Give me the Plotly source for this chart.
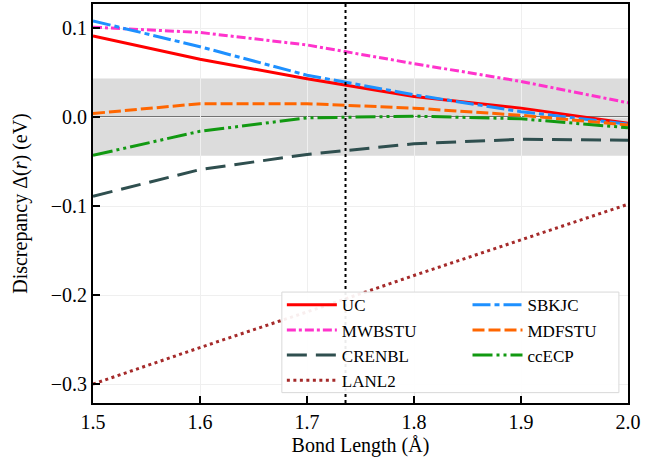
import plotly.graph_objects as go

# ---------------- data ----------------
bond_length = [1.5, 1.6, 1.7, 1.8, 1.9, 2.0]
uc      = [0.091, 0.065, 0.043, 0.023, 0.010, -0.007]
sbkjc   = [0.108, 0.079, 0.047, 0.025, 0.006, -0.008]
mwbstu  = [0.101, 0.095, 0.081, 0.060, 0.040, 0.016]
mdfstu  = [0.004, 0.015, 0.015, 0.010, 0.002, -0.009]
crenbl  = [-0.089, -0.059, -0.042, -0.030, -0.025, -0.026]
ccecp   = [-0.043, -0.016, -0.001, 0.001, -0.002, -0.012]
lanl2   = [-0.300, -0.259, -0.219, -0.178, -0.138, -0.098]
r_eq = 1.736          # equilibrium bond length (vertical marker)
chem_acc = 0.0434     # chemical accuracy band half-width (eV)
x_ticks = [1.5, 1.6, 1.7, 1.8, 1.9, 2.0]
y_ticks = [-0.3, -0.2, -0.1, 0.0, 0.1]

FONT = "Liberation Serif"
FS = 20
LFS = 17

series = [
    # name, values, color, dash, legend
    ("UC", uc, "#ff0000", "solid", "legend"),
    ("MWBSTU", mwbstu, "#ff33cc", "9px,3px,3px,3px", "legend"),
    ("CRENBL", crenbl, "#2f4f4f", "20px,9px", "legend"),
    ("LANL2", lanl2, "#a52a2a", "3px,3.5px", "legend"),
    ("SBKJC", sbkjc, "#1e90ff", "18px,4px,5px,4px", "legend2"),
    ("MDFSTU", mdfstu, "#ff6600", "12px,4px", "legend2"),
    ("ccECP", ccecp, "#119911", "20px,4px,3px,4px,3px,4px", "legend2"),
]

fig = go.Figure()
for name, vals, color, dash, leg in series:
    fig.add_trace(go.Scatter(
        x=bond_length, y=vals, mode="lines", name=name,
        line=dict(color=color, width=3, dash=dash),
        legend=leg, hoverinfo="skip",
    ))

# chemical accuracy band
fig.add_shape(type="rect", xref="paper", yref="y", x0=0, x1=1,
              y0=-chem_acc, y1=chem_acc, fillcolor="#dcdcdc",
              line=dict(width=0), layer="between")
# zero line
fig.add_shape(type="line", xref="paper", yref="y", x0=0, x1=1, y0=0, y1=0,
              line=dict(color="black", width=1), layer="between")
# equilibrium vertical line
fig.add_shape(type="line", xref="x", yref="paper", x0=r_eq, x1=r_eq, y0=0, y1=1,
              line=dict(color="black", width=2, dash="3px,3px"), layer="above")
# legend box
fig.add_shape(type="rect", xref="paper", yref="paper", x0=0.353, x1=0.983,
              y0=0.026, y1=0.278, fillcolor="rgba(255,255,255,0.92)",
              line=dict(color="#d9d9d9", width=1), layer="above")

axis_common = dict(
    showline=True, linecolor="black", linewidth=2, mirror=True,
    ticks="inside", ticklen=7, tickwidth=1.5, tickcolor="black",
    showgrid=True, gridcolor="#efefef", gridwidth=1, zeroline=False,
    tickfont=dict(family=FONT, size=FS, color="black"),
    tickformat=".1f", automargin=False,
)

fig.update_xaxes(range=[1.5, 2.0], tickvals=x_ticks,
                 title=dict(text="Bond Length (Å)", font=dict(family=FONT, size=FS, color="black"), standoff=6),
                 **axis_common)
fig.update_yaxes(range=[-0.3213, 0.127], tickvals=y_ticks,
                 title=dict(text="Discrepancy Δ(<i>r</i>) (eV)", font=dict(family=FONT, size=FS, color="black"), standoff=18),
                 **axis_common)

leg_common = dict(
    bgcolor="rgba(0,0,0,0)", borderwidth=0, orientation="v",
    font=dict(family=FONT, size=LFS, color="black"),
    xanchor="left", yanchor="top", tracegroupgap=0, itemwidth=50,
)
fig.update_layout(
    width=663, height=466,
    margin=dict(l=93, r=35, t=4, b=63, autoexpand=False),
    paper_bgcolor="white", plot_bgcolor="white",
    font=dict(family=FONT, size=FS, color="black"),
    showlegend=True,
    legend=dict(x=0.353, y=0.29, **leg_common),
    legend2=dict(x=0.70, y=0.29, **leg_common),
)

fig.write_html("out.html", config={"displayModeBar": False},
               post_script="document.body.style.margin='0';")
